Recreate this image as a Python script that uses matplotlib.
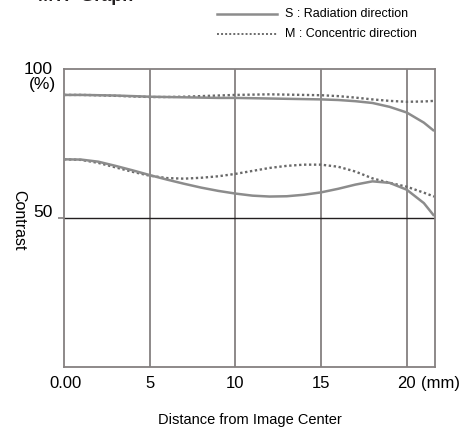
import matplotlib
matplotlib.use("Agg")
import matplotlib.pyplot as plt

plt.rcParams["font.family"] = ["Liberation Sans", "DejaVu Sans"]

# distance from image center (mm)
distance = [0, 1, 2, 3, 4, 5, 6, 7, 8, 9, 10, 11, 12, 13, 14, 15, 16, 17, 18, 19, 20, 21, 21.6]

# contrast (%)
s_high = [91.3, 91.3, 91.2, 91.1, 90.9, 90.7, 90.6, 90.5, 90.4, 90.3, 90.3, 90.2,
          90.1, 90.0, 89.9, 89.8, 89.6, 89.2, 88.6, 87.3, 85.4, 82.0, 79.2]
m_high = [91.3, 91.3, 91.2, 91.0, 90.8, 90.6, 90.6, 90.7, 90.9, 91.1, 91.3, 91.4,
          91.5, 91.4, 91.3, 91.2, 90.9, 90.4, 89.8, 89.3, 89.0, 89.1, 89.3]
s_low = [69.7, 69.6, 68.9, 67.5, 66.0, 64.4, 62.9, 61.5, 60.2, 59.1, 58.2, 57.5,
         57.2, 57.3, 57.8, 58.6, 59.8, 61.2, 62.3, 61.8, 59.5, 55.0, 50.7]
m_low = [69.7, 69.5, 68.5, 67.0, 65.5, 64.2, 63.4, 63.2, 63.5, 64.0, 64.8, 65.8,
         66.8, 67.5, 67.9, 67.9, 67.2, 65.6, 63.3, 61.8, 60.5, 58.5, 57.2]

x_ticks = [0, 5, 10, 15, 20]
x_tick_labels = ["0.00", "5", "10", "15", "20"]

LINE_COLOR = "#8c8c8c"
GRID_COLOR = "#858080"

fig = plt.figure(figsize=(4.63, 4.29), dpi=100)
ax = fig.add_axes([64 / 463, 1 - 367 / 429, (435 - 64) / 463, (367 - 69) / 429])

ax.set_xlim(0, 21.65)
ax.set_ylim(0, 100)

for x in x_ticks[1:]:
    ax.axvline(x, color=GRID_COLOR, linewidth=1.3, zorder=1)
ax.axhline(50, color="#231f20", linewidth=1.0, zorder=1)

for y in (s_high, s_low):
    ax.plot(distance, y, color=LINE_COLOR, linewidth=1.8, solid_capstyle="butt", zorder=3)
for y in (m_high, m_low):
    ax.plot(distance, y, color="#6a6a6a", linewidth=1.7, linestyle=(0, (1, 1.1)), zorder=2)

for spine in ax.spines.values():
    spine.set_color(GRID_COLOR)
    spine.set_linewidth(1.3)

ax.set_xticks([])
ax.set_yticks([50])
ax.set_yticklabels([])
ax.tick_params(axis="y", length=4, width=1.2, color=GRID_COLOR)

for x, lab in zip(x_ticks, x_tick_labels):
    ax.text(x + (0.1 if x == 0 else 0), -5.5, lab, ha="center", va="center", fontsize=12)
ax.text(22.0, -5.5, "(mm)", ha="center", va="center", fontsize=12, clip_on=False)

fig.text(53 / 463, 1 - 70 / 429, "100", ha="right", va="center", fontsize=12.5)
fig.text(56 / 463, 1 - 85 / 429, "(%)", ha="right", va="center", fontsize=12.5)
fig.text(53 / 463, 1 - 213 / 429, "50", ha="right", va="center", fontsize=12.5)
fig.text(19 / 463, 1 - 220 / 429, "Contrast", rotation=270, ha="center", va="center",
         fontsize=11.5)
fig.text(250 / 463, 1 - 420 / 429, "Distance from Image Center", ha="center", va="center",
         fontsize=10.5)

fig.text(38 / 463, 1 - 1 / 429, "MTF Graph", ha="left", va="baseline", fontsize=13,
         fontweight="bold", color="#231f20")

# legend drawn by hand in figure coordinates
leg = fig.add_axes([0, 0, 1, 1], facecolor="none")
leg.set_xlim(0, 463)
leg.set_ylim(429, 0)
leg.axis("off")
leg.plot([217, 277], [14, 14], color=LINE_COLOR, linewidth=1.8)
leg.plot([217, 277], [34, 34], color="#6a6a6a", linewidth=1.4, linestyle=(0, (1, 1.1)))
leg.text(285, 14, "S : Radiation direction", ha="left", va="center", fontsize=9)
leg.text(285, 34, "M : Concentric direction", ha="left", va="center", fontsize=9)

fig.savefig("out.png", dpi=100)
